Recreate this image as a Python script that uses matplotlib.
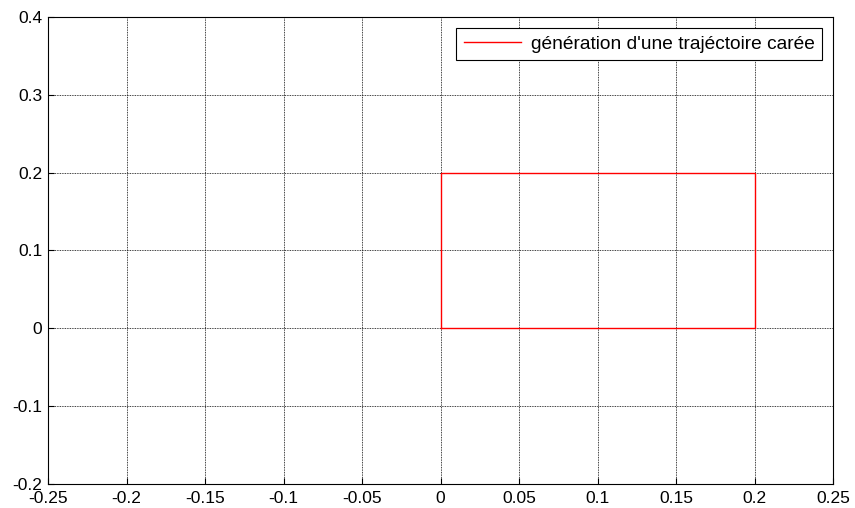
import matplotlib
matplotlib.use("Agg")
import matplotlib.pyplot as plt

plt.rcParams['font.family'] = ['Liberation Sans', 'DejaVu Sans']
plt.rcParams['axes.unicode_minus'] = False

# trajectoire carrée
x = [0, 0.2, 0.2, 0, 0]
y = [0, 0, 0.2, 0.2, 0]

xticks = [-0.25, -0.2, -0.15, -0.1, -0.05, 0, 0.05, 0.1, 0.15, 0.2, 0.25]
yticks = [-0.2, -0.1, 0, 0.1, 0.2, 0.3, 0.4]
xlabels = ['-0.25', '-0.2', '-0.15', '-0.1', '-0.05', '0', '0.05', '0.1', '0.15', '0.2', '0.25']
ylabels = ['-0.2', '-0.1', '0', '0.1', '0.2', '0.3', '0.4']

fig = plt.figure(figsize=(8.55, 5.08), dpi=100)
ax = fig.add_axes([48 / 855, 24 / 508, (833 - 48) / 855, (484 - 17) / 508])

ax.plot(x, y, color='red', linewidth=1.0, label="génération d'une trajéctoire carée")

ax.set_xlim(-0.25, 0.25)
ax.set_ylim(-0.2, 0.4)
ax.set_xticks(xticks)
ax.set_xticklabels(xlabels)
ax.set_yticks(yticks)
ax.set_yticklabels(ylabels)
ax.tick_params(direction='in', length=4, labelsize=12.5, colors='black')
ax.tick_params(axis='x', pad=5)
ax.tick_params(axis='y', pad=4)
ax.grid(True, linestyle=(0, (1, 1)), color='black', linewidth=0.6)
for s in ax.spines.values():
    s.set_linewidth(0.8)

leg = ax.legend(loc='upper right', fontsize=13.8, fancybox=False, framealpha=1,
                edgecolor='black', borderaxespad=0.55, handlelength=3.0,
                borderpad=0.4, handletextpad=0.5)
leg.get_frame().set_linewidth(0.8)

fig.savefig("out.png", dpi=100)
